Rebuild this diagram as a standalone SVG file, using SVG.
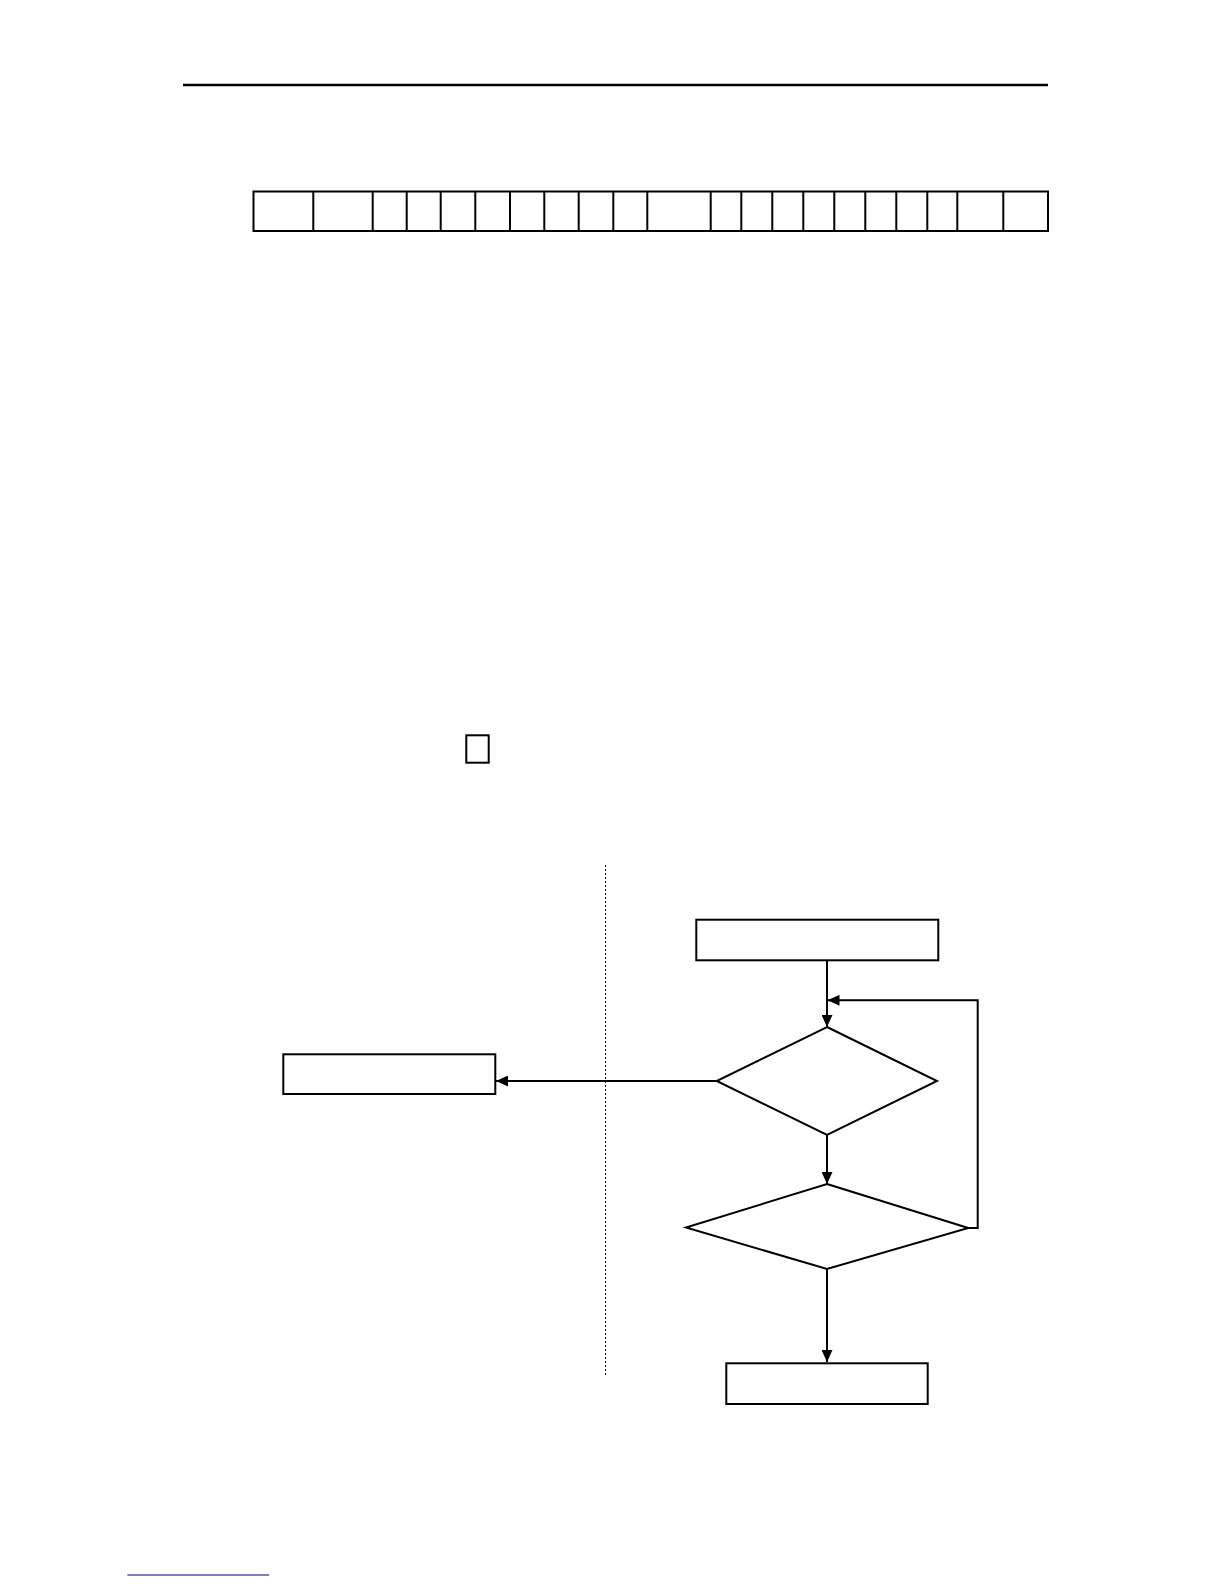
<svg xmlns="http://www.w3.org/2000/svg" width="1224" height="1584" viewBox="0 0 1224 1584">
<style>
.box{fill:#fff;stroke:#000;stroke-width:2}
.cell{fill:none;stroke:#000;stroke-width:2}
.conn{fill:none;stroke:#000;stroke-width:2}
.dot{fill:none;stroke:#000;stroke-width:1;stroke-dasharray:2,2}
</style>
<defs>
<marker id="ah" markerWidth="12" markerHeight="11" refX="12" refY="5.5" orient="auto" markerUnits="userSpaceOnUse">
<path d="M0,0 L12,5.5 L0,11 Z" fill="#000"/>
</marker>
</defs>
<rect width="1224" height="1584" fill="#fff"/>
<line x1="183" y1="85" x2="1048" y2="85" stroke="#000" stroke-width="2.5"/>
<g id="table">
<rect class="cell" x="253.5" y="191.5" width="794.5" height="39.5"/>
<path class="cell" d="M313.3,191.5V231 M372.7,191.5V231 M406.7,191.5V231 M440.7,191.5V231 M475.3,191.5V231 M510,191.5V231 M544.3,191.5V231 M578.7,191.5V231 M613.3,191.5V231 M647.3,191.5V231 M710.7,191.5V231 M741.3,191.5V231 M772.3,191.5V231 M803.3,191.5V231 M834.3,191.5V231 M865.3,191.5V231 M896.3,191.5V231 M927.3,191.5V231 M957.3,191.5V231 M1003.3,191.5V231"/>
</g>
<g id="smallbox"><rect class="box" x="466.3" y="735.3" width="22.4" height="27.4"/></g>
<line class="dot" x1="605.5" y1="865" x2="605.5" y2="1376"/>
<g id="start"><rect class="box" x="696.3" y="919.7" width="242" height="40.6"/></g>
<g id="left"><rect class="box" x="283.3" y="1054.3" width="212" height="39.7"/></g>
<g id="dec1"><polygon class="box" points="827,1027 937,1081 827,1135 716.7,1081"/></g>
<g id="dec2"><polygon class="box" points="827,1184 968.3,1228 827,1269 686,1227.5"/></g>
<g id="end"><rect class="box" x="726.3" y="1363.3" width="201.4" height="40.7"/></g>
<g id="connectors">
<line class="conn" x1="827" y1="960.3" x2="827" y2="1027" marker-end="url(#ah)"/>
<polyline class="conn" points="968.3,1228 977.7,1228 977.7,1000.3 827.5,1000.3" marker-end="url(#ah)"/>
<line class="conn" x1="716.7" y1="1081" x2="496" y2="1081" marker-end="url(#ah)"/>
<line class="conn" x1="827" y1="1135" x2="827" y2="1184" marker-end="url(#ah)"/>
<line class="conn" x1="827" y1="1269" x2="827" y2="1362" marker-end="url(#ah)"/>
</g>
<line x1="127.3" y1="1575" x2="269" y2="1575" stroke="#000080" stroke-width="1.2"/>
</svg>
